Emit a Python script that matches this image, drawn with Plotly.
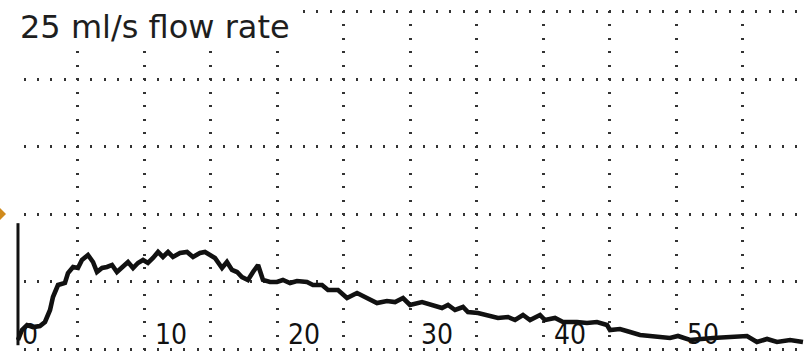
import plotly.graph_objects as go

# Uroflow trace: time (s) and flow rate (ml/s)
time_s = [0.00, 0.30, 0.68, 1.13, 1.65, 2.03, 2.41, 2.63, 3.01, 3.53, 3.76, 4.14, 4.51, 4.81,
          5.26, 5.64, 5.94, 6.32, 6.69, 7.07, 7.44, 7.82, 8.27, 8.65, 9.02, 9.40, 9.77,
          10.15, 10.53, 10.90, 11.28, 11.65, 12.18, 12.71, 13.16, 13.68, 14.06, 14.44, 14.81,
          15.34, 15.71, 16.09, 16.47, 16.84, 17.29, 17.67, 18.05, 18.42, 18.95, 19.47, 19.92,
          20.45, 20.98, 21.73, 22.18, 22.86, 23.31, 24.06, 24.74, 25.49, 26.24,
          26.99, 27.74, 28.35, 28.95, 29.47, 30.38, 31.13, 31.88, 32.33, 32.86, 33.46, 33.83,
          34.59, 35.34, 36.09, 36.84, 37.37, 37.97, 38.50, 39.25, 39.62, 40.38, 40.98, 42.03,
          42.78, 43.53, 44.29, 44.51, 45.26, 46.02, 46.77, 47.52, 48.27, 49.02, 49.62, 50.53,
          52.26, 53.53, 54.81, 55.56, 56.32, 57.07, 58.05, 59.02]
flow_mls = [1.67, 3.52, 4.44, 4.07, 4.26, 5.00, 7.22, 9.63, 11.85, 12.22, 14.07, 15.19, 15.00, 16.48,
            17.41, 16.11, 14.26, 15.00, 15.19, 15.56, 14.26, 15.00, 16.11, 15.00, 15.93, 16.48, 15.93,
            16.85, 17.96, 17.04, 17.96, 17.04, 17.78, 17.96, 17.04, 17.78, 17.96, 17.41, 16.85,
            15.00, 16.11, 14.63, 14.26, 13.33, 12.78, 14.26, 15.56, 12.78, 12.41, 12.41, 12.78,
            12.22, 12.59, 12.41, 11.85, 11.85, 10.93, 10.93, 9.44, 10.37, 9.44,
            8.52, 8.89, 8.70, 9.44, 8.15, 8.70, 8.15, 7.59, 8.15, 7.22, 7.78, 6.85,
            6.67, 6.30, 5.74, 5.93, 5.37, 6.30, 5.37, 6.30, 5.37, 5.74, 5.00, 5.00,
            4.81, 5.00, 4.44, 3.52, 3.70, 3.15, 2.59, 2.41, 2.22, 2.04, 2.41, 1.67,
            2.04, 2.22, 2.41, 1.30, 1.85, 1.30, 1.67, 1.30]

# Calibration stroke drawn by the recorder at t = 0
cal_time = [0, 0]
cal_flow = [0.7, 23.3]

# Time axis labels (s)
tick_times = [0, 10, 20, 30, 40, 50]
tick_labels = ["0", "10", "20", "30", "40", "50"]

title_text = "25 ml/s flow rate"
reference_flow = 25

W, H = 806, 351
LEFT = 14
PX_PER_S = 13.3
PX_PER_ML = 5.4
x_min = -0.3
x_max = x_min + (W - LEFT) / PX_PER_S
y_max = 349 / PX_PER_ML
y_min = -2 / PX_PER_ML

fig = go.Figure()
fig.add_trace(go.Scatter(x=cal_time, y=cal_flow, mode="lines",
                         line=dict(color="#111111", width=3), hoverinfo="skip"))
fig.add_trace(go.Scatter(x=time_s, y=flow_mls, mode="lines",
                         line=dict(color="#111111", width=4.6, shape="linear"),
                         hoverinfo="skip"))

# blank paper behind the heading
fig.add_shape(type="rect", xref="x", yref="y", layer="above",
              x0=x_min - 1, x1=x_min + (298 - LEFT) / PX_PER_S,
              y0=(349 - 46) / PX_PER_ML, y1=y_max + 2,
              fillcolor="white", line=dict(width=0))

fig.add_annotation(text=title_text, xref="paper", yref="paper",
                   x=(18 - LEFT) / (W - LEFT), y=1.0 - 6 / H,
                   xanchor="left", yanchor="top", showarrow=False,
                   font=dict(family="DejaVu Sans", size=32, color="#1e1e1e"))

for t, lab in zip(tick_times, tick_labels):
    fig.add_annotation(text=lab, x=t, y=(349 - 334) / PX_PER_ML, xref="x", yref="y",
                       xanchor="left", yanchor="middle", xshift=2, showarrow=False,
                       font=dict(family="Liberation Sans Narrow, DejaVu Sans Condensed, Roboto",
                                 size=28, color="#111111"))

# orange pointer at the reference flow level
ty = lambda q: (349 - q * PX_PER_ML)  # pixel row of a flow value
fig.add_shape(type="path", xref="paper", yref="paper",
              path="M {a},{b} L {c},{d} L {a},{e} Z".format(
                  a=-LEFT / (W - LEFT), c=(6 - LEFT) / (W - LEFT),
                  b=1 - (ty(reference_flow) - 6) / H, d=1 - ty(reference_flow) / H,
                  e=1 - (ty(reference_flow) + 6) / H),
              fillcolor="#d08a1c", line=dict(width=0))

fig.update_xaxes(range=[x_min, x_max], showticklabels=False, ticks="",
                 showgrid=True, tick0=4.5, dtick=5, gridcolor="#333333", gridwidth=2.6,
                 griddash="0px,10.5px,2px,1px", zeroline=False, showline=False)
fig.update_yaxes(range=[y_min, y_max], showticklabels=False, ticks="",
                 showgrid=True, tick0=0, dtick=12.5, gridcolor="#333333", gridwidth=2.6,
                 griddash="0px,9.8px,2px,1.5px", zeroline=False, showline=False)

fig.update_layout(width=W, height=H, margin=dict(l=LEFT, r=0, t=0, b=0),
                  paper_bgcolor="white", plot_bgcolor="white", showlegend=False)

fig.write_html("out.html")
